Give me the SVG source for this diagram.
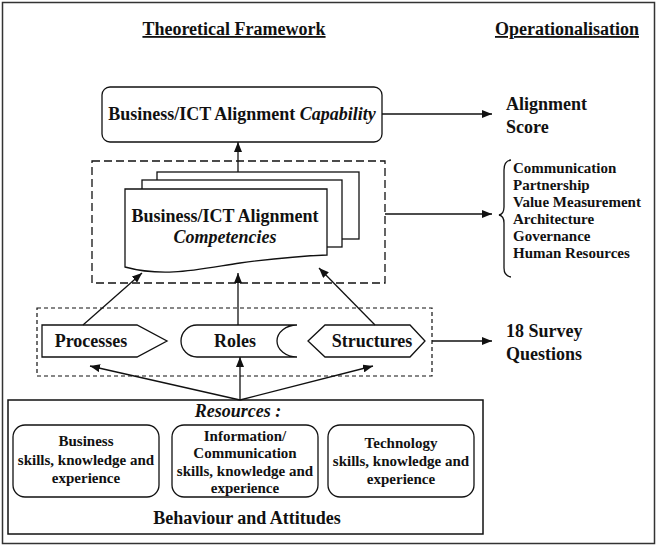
<svg xmlns="http://www.w3.org/2000/svg" width="657" height="546" viewBox="0 0 657 546">
<style>
text{font-family:"Liberation Serif","Times New Roman",serif;font-weight:bold;fill:#111}
.s{fill:#fff;stroke:#111;stroke-width:1.3}
.c{text-anchor:middle}
.ln{stroke:#111;stroke-width:1.3;fill:none}
</style>
<defs>
<marker id="ah" viewBox="0 0 10 8" refX="10" refY="4" markerWidth="10" markerHeight="8" markerUnits="userSpaceOnUse" orient="auto"><path d="M0,0L10,4L0,8Z" fill="#111"/></marker>
</defs>
<rect x="2.5" y="2.5" width="652" height="541" fill="#fff" stroke="#333" stroke-width="1.5"/>
<g id="headings">
<text x="234" y="35" class="c" font-size="18" text-decoration="underline">Theoretical Framework</text>
<text x="567" y="35" class="c" font-size="18" text-decoration="underline">Operationalisation</text>
</g>
<g id="capability">
<rect x="102" y="87" width="280" height="55" rx="8" class="s"/>
<text x="242" y="120" class="c" font-size="18">Business/ICT Alignment <tspan font-style="italic">Capability</tspan></text>
</g>
<g id="alignment-score">
<text x="506" y="110" font-size="18">Alignment</text>
<text x="506" y="133" font-size="18">Score</text>
</g>
<g id="competencies">
<rect x="92" y="161" width="293" height="122" fill="none" stroke="#111" stroke-width="1.3" stroke-dasharray="8,4"/>
<rect x="157" y="172" width="202" height="67" class="s"/>
<rect x="142" y="180" width="200" height="67" class="s"/>
<path d="M125,189 H327 V255 C300,256 270,259 240,263 C200,269 165,278 125,267 Z" class="s"/>
<text x="225" y="222" class="c" font-size="18">Business/ICT Alignment</text>
<text x="225" y="243" class="c" font-size="18" font-style="italic">Competencies</text>
</g>
<g id="dimensions">
<path d="M511,160 Q504,161 504,170 V207 Q504,214 499,215 Q504,216 504,223 V268 Q504,276 511,277" class="ln"/>
<text x="513" y="173" font-size="15">Communication</text>
<text x="513" y="190" font-size="15">Partnership</text>
<text x="513" y="207" font-size="15">Value Measurement</text>
<text x="513" y="224" font-size="15">Architecture</text>
<text x="513" y="241" font-size="15">Governance</text>
<text x="513" y="258" font-size="15">Human Resources</text>
</g>
<g id="mechanisms">
<rect x="37" y="308" width="395" height="68" fill="none" stroke="#111" stroke-width="1.2" stroke-dasharray="4,3"/>
</g>
<g id="processes">
<path d="M42,325 H137 L167,341 L137,357 H42 Z" class="s"/>
<text x="91" y="347" class="c" font-size="18">Processes</text>
</g>
<g id="roles">
<path d="M297,325 H197 A16,16 0 0 0 197,357 H297 A20,16 0 0 1 297,325 Z" class="s"/>
<text x="235" y="347" class="c" font-size="18">Roles</text>
</g>
<g id="structures">
<path d="M308,341 L325,325 H410 L425,341 L410,357 H325 Z" class="s"/>
<text x="372" y="347" class="c" font-size="18">Structures</text>
</g>
<g id="survey">
<text x="506" y="337" font-size="18">18 Survey</text>
<text x="506" y="360" font-size="18">Questions</text>
</g>
<g id="resources">
<rect x="8" y="400" width="475" height="134" fill="#fff" stroke="#111" stroke-width="1.5"/>
<text x="238" y="417" class="c" font-size="18" font-style="italic">Resources :</text>
<rect x="13" y="425" width="146" height="72" rx="12" class="s"/>
<text x="86" y="446" class="c" font-size="15">Business</text>
<text x="86" y="465" class="c" font-size="15">skills, knowledge and</text>
<text x="86" y="483" class="c" font-size="15">experience</text>
<rect x="172" y="425" width="146" height="72" rx="12" class="s"/>
<text x="245" y="441" class="c" font-size="15">Information/</text>
<text x="245" y="458" class="c" font-size="15">Communication</text>
<text x="245" y="476" class="c" font-size="15">skills, knowledge and</text>
<text x="245" y="493" class="c" font-size="15">experience</text>
<rect x="328" y="425" width="146" height="72" rx="12" class="s"/>
<text x="401" y="448" class="c" font-size="15">Technology</text>
<text x="401" y="466" class="c" font-size="15">skills, knowledge and</text>
<text x="401" y="484" class="c" font-size="15">experience</text>
<text x="247" y="524" class="c" font-size="18">Behaviour and Attitudes</text>
</g>
<g id="connectors" class="ln" marker-end="url(#ah)">
<line x1="382" y1="114" x2="492" y2="114" marker-end="url(#ah)"/>
<line x1="238" y1="172" x2="238" y2="142" marker-end="url(#ah)"/>
<line x1="385" y1="214" x2="492" y2="214" marker-end="url(#ah)"/>
<line x1="432" y1="341" x2="492" y2="341" marker-end="url(#ah)"/>
<line x1="83" y1="325" x2="142" y2="273" marker-end="url(#ah)"/>
<line x1="238" y1="325" x2="238" y2="273" marker-end="url(#ah)"/>
<line x1="375" y1="325" x2="319" y2="268" marker-end="url(#ah)"/>
<line x1="240" y1="400" x2="90" y2="366" marker-end="url(#ah)"/>
<line x1="240" y1="400" x2="240" y2="357" marker-end="url(#ah)"/>
<line x1="240" y1="400" x2="373" y2="366" marker-end="url(#ah)"/>
</g>
</svg>
